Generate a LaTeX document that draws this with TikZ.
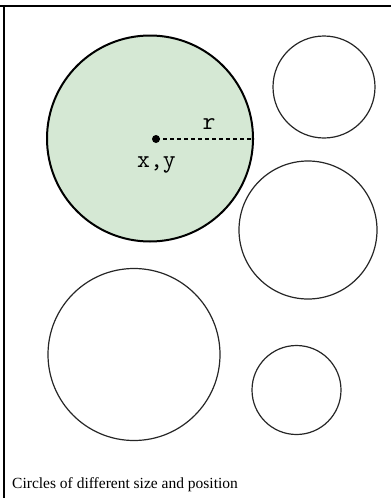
\documentclass[tikz,border=0pt]{standalone}
\usepackage{fontspec}
\newfontfamily\capfont{Liberation Serif}
\definecolor{greenfill}{HTML}{D5E8D4}
\begin{document}
\begin{tikzpicture}[x=1pt,y=-1pt,
  plaincircle/.style={circle,draw=black!85,line width=1.2pt,inner sep=0pt},
  maincircle/.style={circle,draw=black,fill=greenfill,line width=2pt,inner sep=0pt},
  centerdot/.style={circle,fill=black,inner sep=0pt,minimum size=8pt},
  monolabel/.style={font=\ttfamily\fontsize{25}{25}\selectfont,inner sep=0pt,anchor=base},
  framestroke/.style={line width=2pt,black}]
\useasboundingbox (0,0) rectangle (391,498);
% frame
\coordinate (ftl) at (0,6);
\coordinate (ftr) at (391,6);
\coordinate (flt) at (3.5,5);
\coordinate (flb) at (3.5,498);
\draw[framestroke] (ftl) -- (ftr);
\draw[framestroke] (flt) -- (flb);
% circles
\node[maincircle,minimum size=206pt] (c1) at (150,138.5) {};
\node[plaincircle,minimum size=102pt] (c2) at (324,87) {};
\node[plaincircle,minimum size=138pt] (c3) at (308,230) {};
\node[plaincircle,minimum size=172pt] (c4) at (134,354.5) {};
\node[plaincircle,minimum size=89pt] (c5) at (296.5,390) {};
% center and radius
\node[centerdot] (dot) at (156,139) {};
\draw[dashed,dash pattern=on 4pt off 3pt,line width=1.3pt] (dot.center) -- (dot.center -| c1.east);
\node[monolabel] (rlab) at (209,129) {r};
\node[monolabel] (xylab) at (156.5,167) {x,y};
% caption
\node[anchor=base west,inner sep=0pt,font=\capfont\fontsize{15.5}{15.5}\selectfont] (cap) at (12,488) {Circles of different size and position};
\end{tikzpicture}
\end{document}
